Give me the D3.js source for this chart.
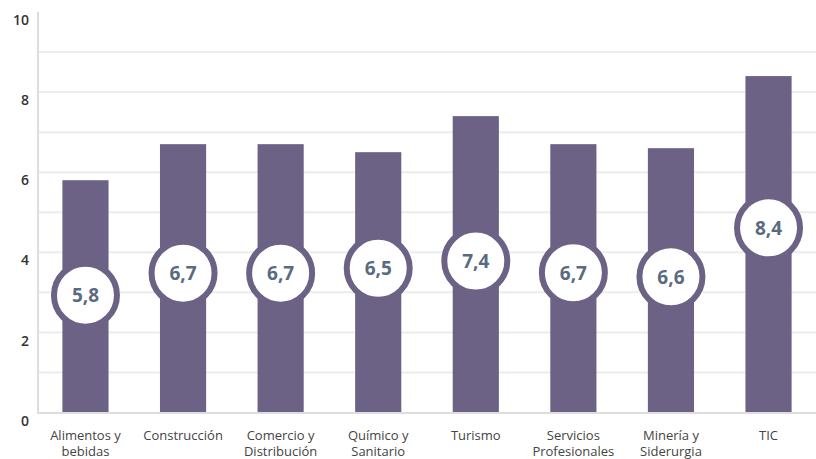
<!DOCTYPE html>
<html lang="es">
<head>
<meta charset="utf-8">
<script src="https://cdn.jsdelivr.net/npm/d3@7"></script>
<style>
  html, body { margin: 0; padding: 0; background: #fff; }
  svg { display: block; font-family: "Open Sans", "Noto Sans", sans-serif; }
</style>
</head>
<body>
<svg id="chart" width="816" height="459"></svg>
<script>
// Sectors (each label split over up to two lines)
const sectors = [
  ["Alimentos y", "bebidas"],
  ["Construcción"],
  ["Comercio y", "Distribución"],
  ["Químico y", "Sanitario"],
  ["Turismo"],
  ["Servicios", "Profesionales"],
  ["Minería y", "Siderurgia"],
  ["TIC"]
];
// Score per sector
const scores = [5.8, 6.7, 6.7, 6.5, 7.4, 6.7, 6.6, 8.4];
// Height (in axis units) at which each score badge sits on its bar
const badgeLevels = [2.93, 3.48, 3.48, 3.6, 3.78, 3.49, 3.39, 4.61];
// Axis
const yTickLabels = [0, 2, 4, 6, 8, 10];
const yGridValues = [1, 2, 3, 4, 5, 6, 7, 8, 9];

const svg = d3.select("#chart");
const plotLeft = 38, plotRight = 816, plotTop = 12, plotBottom = 412.5;

const keys = sectors.map(d => d.join(" "));
const x = d3.scaleBand().domain(keys).range([plotLeft, plotRight])
  .paddingInner(0.527).paddingOuter(0.25);
const y = d3.scaleLinear().domain([0, 10]).range([plotBottom, plotTop]);

const barColor = "#6c6286";
const gridColor = "#ececec";

// Horizontal gridlines
svg.append("g").selectAll("line").data(yGridValues).join("line")
  .attr("x1", plotLeft).attr("x2", plotRight)
  .attr("y1", d => y(d)).attr("y2", d => y(d))
  .attr("stroke", gridColor).attr("stroke-width", 2);

// Y axis (labels only, line drawn separately)
const yAxis = d3.axisLeft(y).tickValues(yTickLabels).tickSize(0).tickPadding(9)
  .tickFormat(d3.format("d"));
const gy = svg.append("g").attr("transform", `translate(${plotLeft},0)`).call(yAxis);
gy.select(".domain").remove();
gy.selectAll("text")
  .attr("font-family", "'Open Sans', sans-serif")
  .attr("font-size", 14).attr("font-weight", 600)
  .attr("fill", "#333").attr("dy", "0.9em");

// Bars
svg.append("g").selectAll("rect").data(scores).join("rect")
  .attr("x", (d, i) => x(keys[i]))
  .attr("width", x.bandwidth())
  .attr("y", d => y(d))
  .attr("height", d => y(0) - y(d))
  .attr("fill", barColor);

// Axis lines
svg.append("line").attr("x1", plotLeft).attr("x2", plotLeft)
  .attr("y1", plotTop).attr("y2", plotBottom + 1)
  .attr("stroke", "#dddddd").attr("stroke-width", 2);
svg.append("line").attr("x1", plotLeft - 1).attr("x2", plotRight)
  .attr("y1", plotBottom + 0.5).attr("y2", plotBottom + 0.5)
  .attr("stroke", "#dddddd").attr("stroke-width", 2);

// Score badges
const fmt = v => d3.format(".1f")(v).replace(".", ",");
const badges = svg.append("g").selectAll("g").data(scores).join("g")
  .attr("transform", (d, i) => `translate(${x(keys[i]) + x.bandwidth() / 2},${y(badgeLevels[i])})`);
badges.append("circle").attr("r", 31.5)
  .attr("fill", "#fff").attr("stroke", barColor).attr("stroke-width", 6);
badges.append("text")
  .attr("text-anchor", "middle").attr("dy", "0.36em")
  .attr("font-size", 19).attr("font-weight", 700)
  .attr("fill", "#5a6a80")
  .text(d => fmt(d));

// Category labels
const cat = svg.append("g").selectAll("text").data(sectors).join("text")
  .attr("x", (d, i) => x(keys[i]) + x.bandwidth() / 2)
  .attr("y", 440)
  .attr("text-anchor", "middle")
  .attr("font-size", 13).attr("fill", "#444");
cat.selectAll("tspan").data(d => d).join("tspan")
  .attr("x", function () { return d3.select(this.parentNode).attr("x"); })
  .attr("dy", (d, i) => i === 0 ? 0 : 16)
  .text(d => d);
</script>
</body>
</html>
